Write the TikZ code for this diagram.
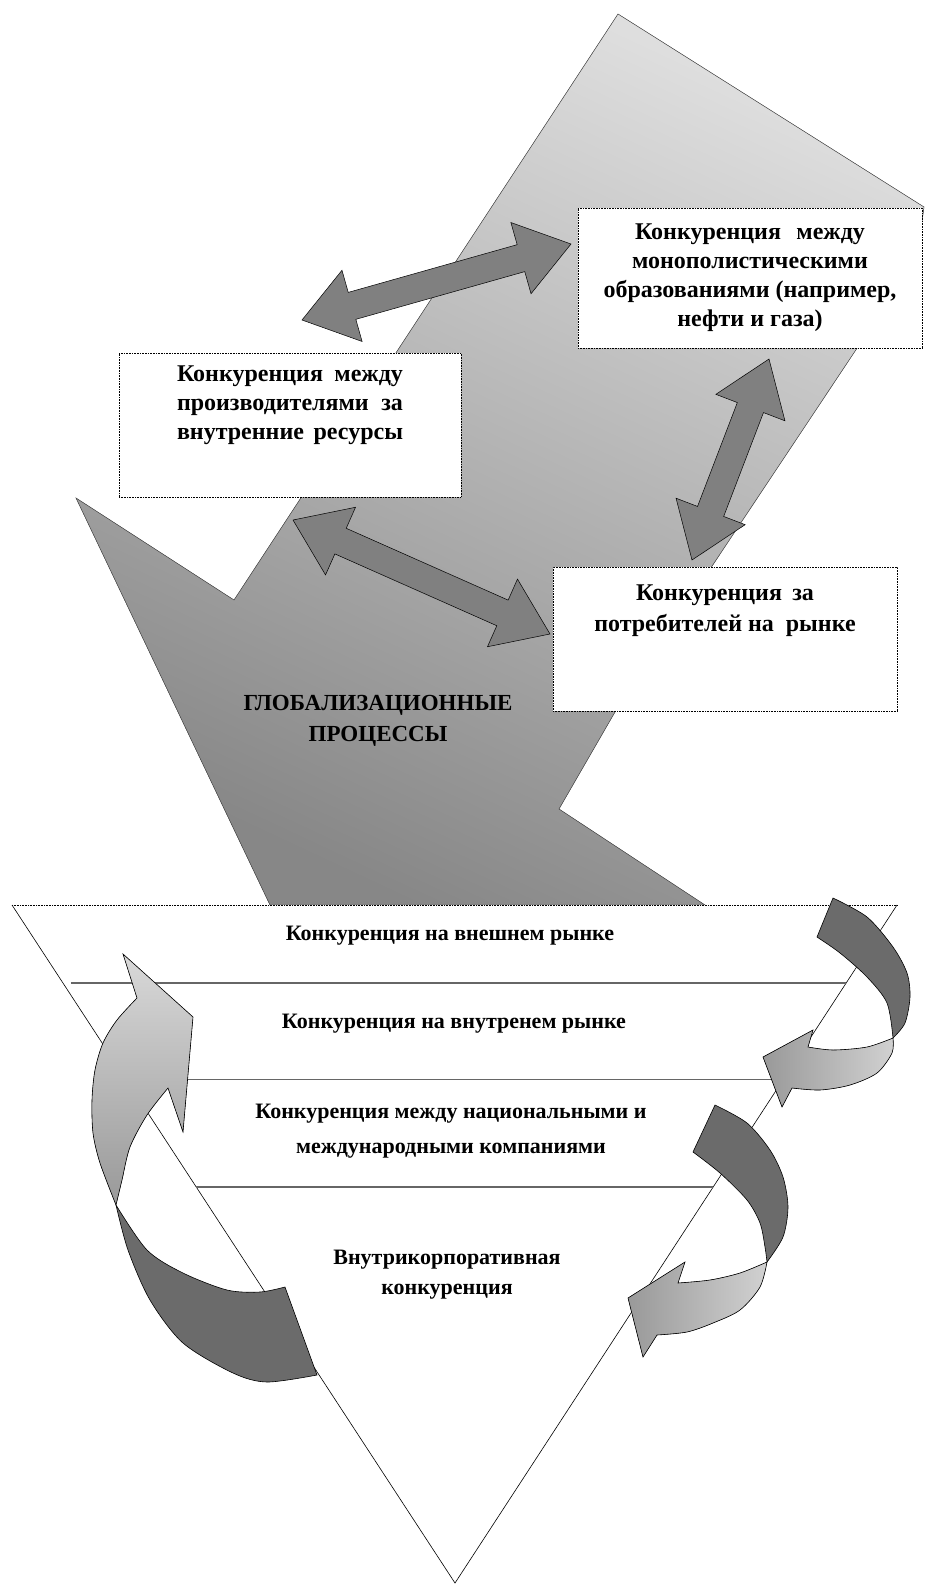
\documentclass[tikz,border=0pt]{standalone}
\usepackage{fontspec}
\setmainfont{Liberation Serif}
\usetikzlibrary{calc}

% block arrow with a head at each end
\newcommand{\blockarrow}[2]{%
  \filldraw[dblarrow] (#1)
    -- ($(#1)!52pt!(#2)!37pt!90:(#2)$)
    -- ($(#1)!52pt!(#2)!14pt!90:(#2)$)
    -- ($(#2)!52pt!(#1)!14pt!-90:(#1)$)
    -- ($(#2)!52pt!(#1)!37pt!-90:(#1)$)
    -- (#2)
    -- ($(#2)!52pt!(#1)!37pt!90:(#1)$)
    -- ($(#2)!52pt!(#1)!14pt!90:(#1)$)
    -- ($(#1)!52pt!(#2)!14pt!-90:(#2)$)
    -- ($(#1)!52pt!(#2)!37pt!-90:(#2)$)
    -- cycle;}

\begin{document}
\begin{tikzpicture}[x=1pt, y=-1pt,
    box/.style={draw, densely dotted, line width=0.6pt, fill=white, inner sep=0pt,
      font=\bfseries\fontsize{24}{29}\selectfont},
    band/.style={font=\bfseries\fontsize{22}{35}\selectfont, align=center, inner sep=0pt},
    dblarrow/.style={fill=black!50, draw=black, line width=0.5pt},
    bigarrow/.style={draw=black!70, line width=0.5pt, top color=black!13, bottom color=black!47, shading angle=-25},
    back/.style={fill=black!58, draw=black, line width=0.6pt},
    front/.style={draw=black, line width=0.6pt}]
    \useasboundingbox (0,0) rectangle (927,1585);

    % big arrow
    \filldraw[bigarrow] (618,14) -- (924,207) -- (917,258) -- (615,712) -- (559,809)
        -- (705,905) -- (270,905) -- (76,498) -- (234,600) -- cycle;
    \node[band, font=\bfseries\fontsize{23}{31}\selectfont] (8) at (378,721) {ГЛОБАЛИЗАЦИОННЫЕ\\ПРОЦЕССЫ};

    % boxes
    \node[box] (1) at (750,278) {\parbox[c][140pt][t]{344pt}{\centering\vspace*{16pt}%
        \makebox[230pt][s]{Конкуренция между}\\
        монополистическими\\
        образованиями (например,\\
        нефти и газа)}};
    \node[box] (2) at (290,425) {\parbox[c][144pt][t]{342pt}{\centering\vspace*{13pt}%
        \makebox[226pt][s]{Конкуренция между}\\
        \makebox[226pt][s]{производителями за}\\
        \makebox[226pt][s]{внутренние ресурсы}}};
    \node[box] (3) at (725,639) {\parbox[c][144pt][t]{344pt}{\centering\vspace*{18pt}%
        \makebox[178pt][s]{Конкуренция за}\\[2pt]
        потребителей на\ \ рынке}};

    \coordinate (a1) at (302,320);
    \coordinate (a2) at (571,244);
    \coordinate (b1) at (769,359);
    \coordinate (b2) at (692,560);
    \coordinate (c1) at (293,520);
    \coordinate (c2) at (550,634);
    \blockarrow{a1}{a2}
    \blockarrow{b1}{b2}
    \blockarrow{c1}{c2}

    % funnel
    \coordinate (tl) at (12,905);
    \coordinate (tr) at (897,905);
    \coordinate (apex) at (455,1583);
    \fill[white] (tl) -- (tr) -- (apex) -- cycle;
    \draw[densely dotted, line width=0.6pt] (tl) -- (tr);
    \draw[line width=0.6pt] (tr) -- (apex) -- (tl);
    \draw[black!60, line width=1.2pt] ($(tl)!0.115!(apex)+(8,0)$) -- ($(tr)!0.115!(apex)$);
    \draw[black!60, line width=1.2pt] ($(tl)!0.257!(apex)$) -- ($(tr)!0.257!(apex)$);
    \draw[black!60, line width=1.2pt] ($(tl)!0.416!(apex)$) -- ($(tr)!0.416!(apex)$);

    \node[band] (4) at (450,936) {Конкуренция на внешнем рынке};
    \node[band] (5) at (454,1024) {Конкуренция на внутренем рынке};
    \node[band] (6) at (451,1131) {Конкуренция между национальными и\\международными компаниями};
    \node[band, font=\bfseries\fontsize{22}{30}\selectfont] (7) at (447,1275) {Внутрикорпоративная\\конкуренция};

    % curved arrows
    \filldraw[back] (116,1205) -- plot[smooth] coordinates {(116,1205) (128,1250) (150,1300) (183,1343) (233,1373) (267,1382) (317,1375)}
        -- (285,1287) -- plot[smooth] coordinates {(285,1287) (260,1292) (227,1290) (183,1273) (147,1250) (116,1205)} -- cycle;
    \filldraw[front, top color=black!15, bottom color=black!40] (123,954) -- (193,1017) -- (183,1132) -- (168,1088)
        -- plot[smooth] coordinates {(168,1088) (147,1115) (130,1147) (122,1180) (116,1205)}
        -- plot[smooth] coordinates {(116,1205) (100,1163) (93,1133) (92,1100) (95,1070) (103,1043) (117,1020) (137,998)} -- cycle;

    \filldraw[back] (833,898) -- plot[smooth] coordinates {(833,898) (867,917) (893,947) (907,973) (910,997) (905,1023) (893,1038)}
        -- plot[smooth] coordinates {(893,1038) (887,1003) (867,977) (840,953) (817,937)} -- cycle;
    \filldraw[front, left color=black!40, right color=black!18] (893,1038)
        -- plot[smooth] coordinates {(893,1038) (892,1053) (877,1073) (850,1085) (820,1090) (792,1088)}
        -- (782,1107) -- (763,1057) -- (813,1030) -- (808,1047)
        -- plot[smooth] coordinates {(808,1047) (833,1050) (867,1047) (893,1038)} -- cycle;

    \filldraw[back] (715,1105) -- plot[smooth] coordinates {(715,1105) (747,1123) (770,1150) (783,1177) (788,1207) (783,1237) (767,1262)}
        -- plot[smooth] coordinates {(767,1262) (765,1247) (760,1223) (747,1200) (720,1173) (693,1152)} -- cycle;
    \filldraw[front, left color=black!40, right color=black!18] (767,1262)
        -- plot[smooth] coordinates {(767,1262) (760,1287) (740,1310) (713,1323) (687,1332) (657,1335)}
        -- (643,1357) -- (628,1298) -- (685,1262) -- (678,1283)
        -- plot[smooth] coordinates {(678,1283) (710,1280) (740,1273) (767,1262)} -- cycle;
\end{tikzpicture}
\end{document}
